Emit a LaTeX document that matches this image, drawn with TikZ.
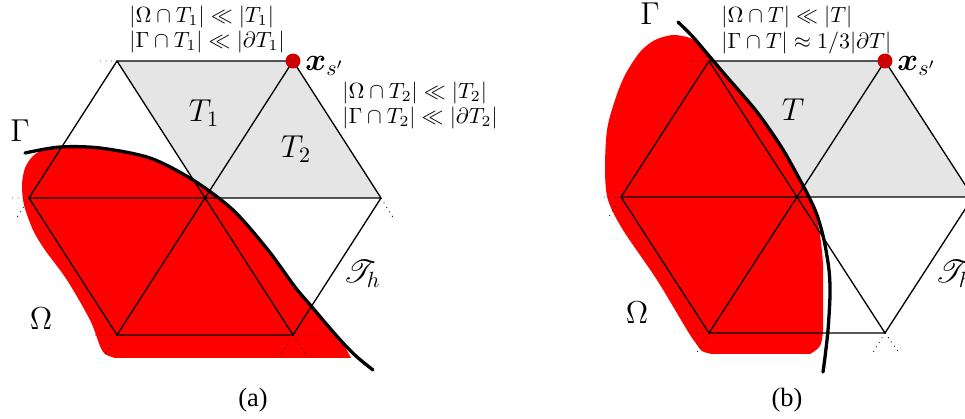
\documentclass[tikz,border=0pt]{standalone}
\usepackage{amsmath}
\usepackage{amssymb}
\usepackage{mathrsfs}
\usepackage[no-math]{fontspec}
\newfontfamily\capfont{Liberation Serif}
\definecolor{meshgray}{RGB}{229,229,229}
\definecolor{omegared}{RGB}{255,0,0}
\definecolor{dotred}{RGB}{204,0,0}
\tikzset{
  mesh/.style={line width=0.6pt, line join=round},
  stub/.style={dotted, line width=0.4pt},
  gammaline/.style={line width=1.5pt, line cap=round},
  grayfill/.style={fill=meshgray},
  redfill/.style={fill=omegared},
  cond/.style={inner sep=0pt, anchor=west, font=\fontsize{10}{12}\selectfont},
  tlabel/.style={inner sep=0pt, font=\fontsize{14.4}{17}\selectfont},
  biglabel/.style={inner sep=0pt, font=\fontsize{14.4}{17}\selectfont},
  xslabel/.style={inner sep=0pt, anchor=west, font=\fontsize{14}{16}\selectfont},
  caption/.style={inner sep=0pt, font=\fontsize{12}{14}\capfont},
  vertexdot/.style={circle, fill=dotred, inner sep=0pt, minimum size=6.8pt}
}
\begin{document}
\begin{tikzpicture}[x=0.4545pt, y=-0.4545pt]
\useasboundingbox (0,0) rectangle (965,419);
\clip (0,0) rectangle (965,419);

% ================= panel (a) =================
\coordinate (a1) at (117,61);
\coordinate (a2) at (293,61);
\coordinate (b0) at (29,198);
\coordinate (b1) at (205,198);
\coordinate (b2) at (381,198);
\coordinate (c0) at (117,335);
\coordinate (c1) at (293,335);
% stub ends
\coordinate (sa1l) at (97,61);
\coordinate (sb0l) at (8,198);
\coordinate (sb0d) at (16,219);
\coordinate (sb2d) at (394,219);
\coordinate (sc0l) at (95,335);
\coordinate (sc0d) at (104,356);
\coordinate (sc1r) at (315,335);
\coordinate (sc1dl) at (280,356);
\coordinate (sc1dr) at (307,356);

\fill[grayfill] (a1) -- (a2) -- (b1) -- cycle;
\fill[grayfill] (a2) -- (b1) -- (b2) -- cycle;

\fill[redfill] plot[smooth] coordinates {(60,147) (100,148) (150,158) (193,180) (233,210) (268,250) (295,287) (312,307) (328,326) (343,343)}
  -- (351,358) -- (115,358)
  -- plot[smooth] coordinates {(115,358) (105,354) (100,346) (90,320) (67,280) (45,250) (33,230) (24,205) (22,185) (25,168) (33,156) (45,149) (60,147)} -- cycle;

\draw[mesh] (a1) -- (a2) (a1) -- (b0) (a1) -- (b1) (a2) -- (b1) (a2) -- (b2)
  (b0) -- (b2) (b0) -- (c0) (b1) -- (c0) (b1) -- (c1) (b2) -- (c1) (c0) -- (c1);
\draw[stub] (a1) -- (sa1l) (b0) -- (sb0l) (b0) -- (sb0d) (b2) -- (sb2d)
  (c0) -- (sc0l) (c0) -- (sc0d) (c1) -- (sc1r) (c1) -- (sc1dl) (c1) -- (sc1dr);

\draw[gammaline] plot[smooth] coordinates {(25,153) (60,147) (100,148) (150,158) (193,180) (233,210) (268,250) (295,287) (312,307) (328,326) (343,343) (357,357) (373,370)};

\node[vertexdot] (xa) at (a2) {};
\node[xslabel] (xal) at (305,66) {$\boldsymbol{x}_{s'}$};
\node[cond] (ca1) at (129,17) {$|\Omega\cap T_1|\ll|T_1|$};
\node[cond] (ca2) at (129,42) {$|\Gamma\cap T_1|\ll|\partial T_1|$};
\node[cond] (ca3) at (342,93) {$|\Omega\cap T_2|\ll|T_2|$};
\node[cond] (ca4) at (342,118) {$|\Gamma\cap T_2|\ll|\partial T_2|$};
\node[tlabel] (t1) at (204,113) {$T_1$};
\node[tlabel] (t2) at (296,149) {$T_2$};
\node[biglabel] (ga) at (20,131) {$\Gamma$};
\node[biglabel] (oa) at (41,319) {$\Omega$};
\node[biglabel] (tha) at (362,274) {$\mathscr{T}_h$};
\node[caption] (capa) at (253,400) {(a)};

% ================= panel (b) =================
\coordinate (p1) at (709,61);
\coordinate (p2) at (885,61);
\coordinate (q0) at (621,197);
\coordinate (q1) at (797,197);
\coordinate (q2) at (973,197);
\coordinate (r0) at (709,333);
\coordinate (r1) at (885,333);
% stub ends
\coordinate (sp1l) at (689,61);
\coordinate (sp1u) at (697,42);
\coordinate (sq0l) at (601,197);
\coordinate (sq0d) at (608,218);
\coordinate (sr0l) at (688,333);
\coordinate (sr0d) at (696,354);
\coordinate (sr1dl) at (872,354);
\coordinate (sr1dr) at (900,354);

\fill[grayfill] (p1) -- (p2) -- (q1) -- cycle;
\fill[grayfill] (p2) -- (q1) -- (q2) -- cycle;

\fill[redfill] plot[smooth] coordinates {(706,52) (727,77) (757,112) (782,148) (800,180) (809,197) (815,212) (820,235) (823,265) (823,300) (823,330) (820,346) (810,354)}
  -- (712,354)
  -- plot[smooth] coordinates {(712,354) (702,351) (695,342) (687,330) (657,280) (623,230) (608,200) (605,170) (607,130) (615,100) (625,75) (640,52) (655,40) (673,35) (690,38) (700,45) (706,52)} -- cycle;

\draw[mesh] (p1) -- (p2) (p1) -- (q0) (p1) -- (q1) (p2) -- (q1) (p2) -- (q2)
  (q0) -- (q2) (q0) -- (r0) (q1) -- (r0) (q1) -- (r1) (q2) -- (r1) (r0) -- (r1);
\draw[stub] (p1) -- (sp1l) (p1) -- (sp1u) (q0) -- (sq0l) (q0) -- (sq0d)
  (r0) -- (sr0l) (r0) -- (sr0d) (r1) -- (sr1dl) (r1) -- (sr1dr);

\draw[gammaline] plot[smooth] coordinates {(678,22) (693,37) (710,57) (727,77) (757,112) (782,148) (800,180) (809,197) (817,215) (824,240) (829,270) (830,295) (828,330) (825,357) (823,372)};

\node[vertexdot] (xb) at (p2) {};
\node[xslabel] (xbl) at (897,66) {$\boldsymbol{x}_{s'}$};
\node[cond] (cb1) at (721,17) {$|\Omega\cap T|\ll|T|$};
\node[cond] (cb2) at (721,43) {$|\Gamma\cap T|\approx 1/3|\partial T|$};
\node[tlabel] (tb) at (793,110) {$T$};
\node[biglabel] (gb) at (650,14) {$\Gamma$};
\node[biglabel] (ob) at (637,313) {$\Omega$};
\node[biglabel] (thb) at (954,274) {$\mathscr{T}_h$};
\node[caption] (capb) at (787,400) {(b)};
\end{tikzpicture}
\end{document}
